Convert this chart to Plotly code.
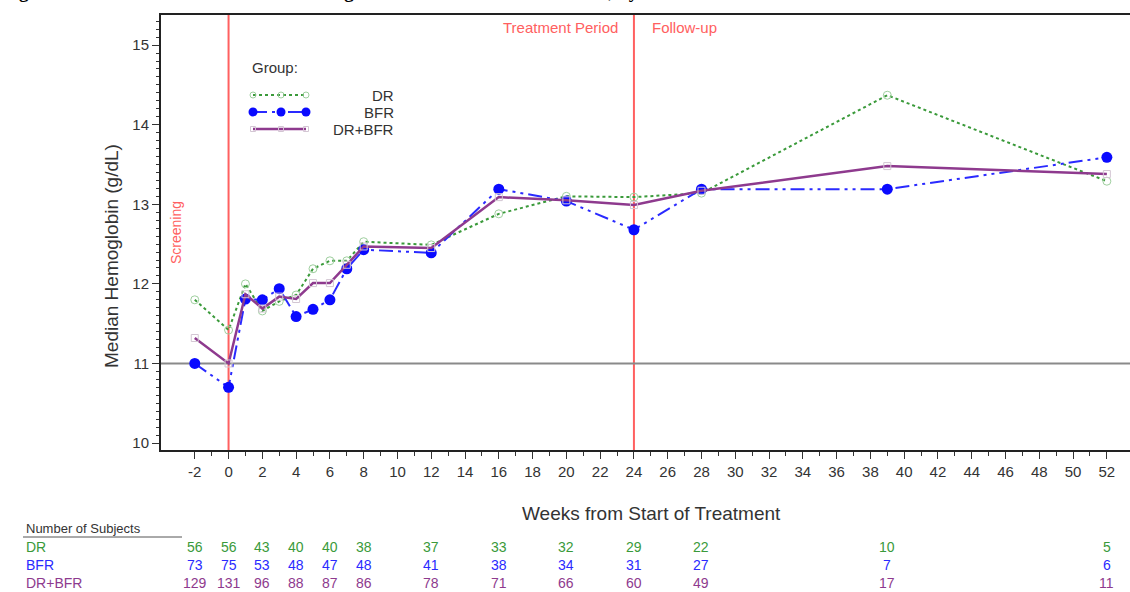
import plotly.graph_objects as go

# ---- data -------------------------------------------------------------
weeks = [-2, 0, 1, 2, 3, 4, 5, 6, 7, 8, 12, 16, 20, 24, 28, 39, 52]

dr_median = [11.80, 11.42, 12.00, 11.66, 11.78, 11.86, 12.19, 12.29, 12.29, 12.53,
             12.49, 12.88, 13.10, 13.09, 13.14, 14.37, 13.29]
bfr_median = [11.00, 10.70, 11.81, 11.80, 11.94, 11.59, 11.68, 11.80, 12.19, 12.43,
              12.39, 13.19, 13.04, 12.68, 13.19, 13.19, 13.59]
both_median = [11.32, 11.00, 11.87, 11.69, 11.84, 11.81, 12.01, 12.01, 12.24, 12.47,
               12.45, 13.09, 13.05, 12.99, 13.17, 13.48, 13.38]

count_weeks = [-2, 0, 2, 4, 6, 8, 12, 16, 20, 24, 28, 39, 52]
dr_n = [56, 56, 43, 40, 40, 38, 37, 33, 32, 29, 22, 10, 5]
bfr_n = [73, 75, 53, 48, 47, 48, 41, 38, 34, 31, 27, 7, 6]
both_n = [129, 131, 96, 88, 87, 86, 78, 71, 66, 60, 49, 17, 11]

x_tick_vals = list(range(-2, 53, 2))
x_tick_text = [str(v) for v in x_tick_vals]
x_minor_vals = list(range(-1, 52, 2))
y_tick_vals = [10, 11, 12, 13, 14, 15]

# ---- styling ------------------------------------------------------------
W, H = 1130, 592
L, R, T, B = 161, 0, 15, 142
FONT = "Arial, Liberation Sans, sans-serif"
GREEN = "#3a9a3a"
BLUE = "#0a0aff"
PURPLE = "#8e3a8e"
RED = "#ff6060"
TXT = "#333333"
BFR_DASH = "14px,5px,3px,5px,3px,5px"

groups = [
    ("DR", dr_median, dr_n, dict(color=GREEN, width=2, dash="dot"),
     dict(symbol="circle-open", size=8, color="#9fcf9f", line=dict(width=1)), GREEN),
    ("BFR", bfr_median, bfr_n, dict(color="#2a2aff", width=2, dash=BFR_DASH),
     dict(symbol="circle", size=11, color=BLUE), "#2a2aff"),
    ("DR+BFR", both_median, both_n, dict(color=PURPLE, width=2.5),
     dict(symbol="square-open", size=7, color="#d3c6d3", line=dict(width=1)), PURPLE),
]


def px_x(p):
    return (p - L) / (W - L - R)


def px_y(p):
    return (H - B - p) / (H - T - B)


fig = go.Figure()

for name, vals, _, line, marker, _c in groups:
    fig.add_trace(go.Scatter(x=weeks, y=vals, mode="lines+markers", name=name,
                             line=line, marker=marker, showlegend=False))

# ---- hand-drawn legend (overlay axes spanning the plot area) --------------
legend_rows = [95, 112, 129]
legend_marker_sizes = [6, 9, 5]
for (name, _, _, line, marker, _c), row, msz in zip(groups, legend_rows,
                                                     legend_marker_sizes):
    mk = dict(marker, size=msz)
    fig.add_trace(go.Scatter(x=[px_x(253), px_x(281), px_x(306)],
                             y=[px_y(row)] * 3, mode="lines+markers",
                             line=line, marker=mk, showlegend=False,
                             xaxis="x2", yaxis="y2", hoverinfo="skip"))

annotations = [
    dict(x=px_x(250), y=px_y(67), xref="paper", yref="paper", text="Group:",
         showarrow=False, xanchor="left", yanchor="middle",
         font=dict(family=FONT, size=15, color=TXT)),
]
for (name, *_), row in zip(groups, legend_rows):
    annotations.append(dict(x=px_x(396), y=px_y(row), xref="paper", yref="paper",
                            text=name, showarrow=False, xanchor="right",
                            yanchor="middle",
                            font=dict(family=FONT, size=15, color=TXT)))

# period labels
annotations += [
    dict(x=24, y=px_y(28), xref="x", yref="paper", text="Treatment Period",
         showarrow=False, xanchor="right", yanchor="middle", xshift=-14,
         font=dict(family=FONT, size=15, color=RED)),
    dict(x=24, y=px_y(28), xref="x", yref="paper", text="Follow-up",
         showarrow=False, xanchor="left", yanchor="middle", xshift=16,
         font=dict(family=FONT, size=15, color=RED)),
    dict(x=px_x(176), y=px_y(233), xref="paper", yref="paper", text="Screening",
         showarrow=False, textangle=-90, xanchor="center", yanchor="middle",
         font=dict(family=FONT, size=14, color=RED)),
]

# axis titles
annotations += [
    dict(x=px_x(651), y=px_y(513), xref="paper", yref="paper",
         text="Weeks from Start of Treatment", showarrow=False,
         xanchor="center", yanchor="middle",
         font=dict(family=FONT, size=19, color=TXT)),
    dict(x=px_x(112), y=px_y(256), xref="paper", yref="paper",
         text="Median Hemoglobin (g/dL)", showarrow=False, textangle=-90,
         xanchor="center", yanchor="middle",
         font=dict(family=FONT, size=19, color=TXT)),
]

# figure caption sitting above the top edge of the page
annotations.append(dict(x=0, y=px_y(4), xref="paper", yref="paper",
                        xanchor="left", yanchor="bottom", showarrow=False,
                        text="<b>Figure 14.2.3.1.2  Observed Median Hemoglobin "
                             "Concentration Over Time, by Treatment</b>",
                        font=dict(family="Liberation Serif, Times New Roman, serif",
                                  size=19, color="#000000"),
                        xshift=-L))

# number-of-subjects table
annotations.append(dict(x=px_x(24), y=px_y(528), xref="paper", yref="paper",
                        text="Number of Subjects", showarrow=False,
                        xanchor="left", yanchor="middle",
                        font=dict(family=FONT, size=13, color=TXT)))
table_rows = [547, 565, 583]
for (name, _, counts, _, _, color), row in zip(groups, table_rows):
    annotations.append(dict(x=px_x(24), y=px_y(row), xref="paper", yref="paper",
                            text=name, showarrow=False, xanchor="left",
                            yanchor="middle",
                            font=dict(family=FONT, size=14, color=color)))
    for wk, n in zip(count_weeks, counts):
        annotations.append(dict(x=wk, y=px_y(row), xref="x", yref="paper",
                                text=str(n), showarrow=False, xanchor="center",
                                yanchor="middle",
                                font=dict(family=FONT, size=14, color=color)))

shapes = [
    dict(type="line", xref="x", yref="paper", x0=0, x1=0, y0=0, y1=1,
         line=dict(color=RED, width=2), layer="below"),
    dict(type="line", xref="x", yref="paper", x0=24, x1=24, y0=0, y1=1,
         line=dict(color=RED, width=2), layer="below"),
    dict(type="line", xref="paper", yref="y", x0=0, x1=1, y0=11, y1=11,
         line=dict(color="#8a8a8a", width=2), layer="below"),
    dict(type="line", xref="paper", yref="paper", x0=px_x(23), x1=px_x(182),
         y0=px_y(537), y1=px_y(537), line=dict(color="#555555", width=1)),
]

fig.update_layout(
    width=W, height=H,
    margin=dict(l=L, r=R, t=T, b=B),
    paper_bgcolor="white", plot_bgcolor="white",
    showlegend=False,
    font=dict(family=FONT, color=TXT),
    annotations=annotations,
    shapes=shapes,
    xaxis=dict(range=[-4.0, 53.37], tickmode="array", tickvals=x_tick_vals,
               ticktext=x_tick_text,
               ticks="outside", ticklen=7, tickwidth=1, tickcolor="#333",
               showline=True, linecolor="#222", linewidth=2, mirror=True,
               showgrid=False, zeroline=False,
               tickfont=dict(family=FONT, size=15, color=TXT),
               minor=dict(tickmode="array", tickvals=x_minor_vals,
                          ticks="outside", ticklen=4, tickcolor="#333",
                          showgrid=False)),
    yaxis=dict(range=[9.913, 15.378], tickmode="array", tickvals=y_tick_vals,
               ticks="outside", ticklen=7, tickwidth=1, tickcolor="#333",
               showline=True, linecolor="#222", linewidth=2,
               showgrid=False, zeroline=False,
               tickfont=dict(family=FONT, size=15, color=TXT),
               minor=dict(dtick=0.1, ticks="outside", ticklen=3,
                          tickcolor="#333", showgrid=False)),
    xaxis2=dict(overlaying="x", range=[0, 1], visible=False),
    yaxis2=dict(overlaying="y", range=[0, 1], visible=False),
)

fig.write_html("out.html")
